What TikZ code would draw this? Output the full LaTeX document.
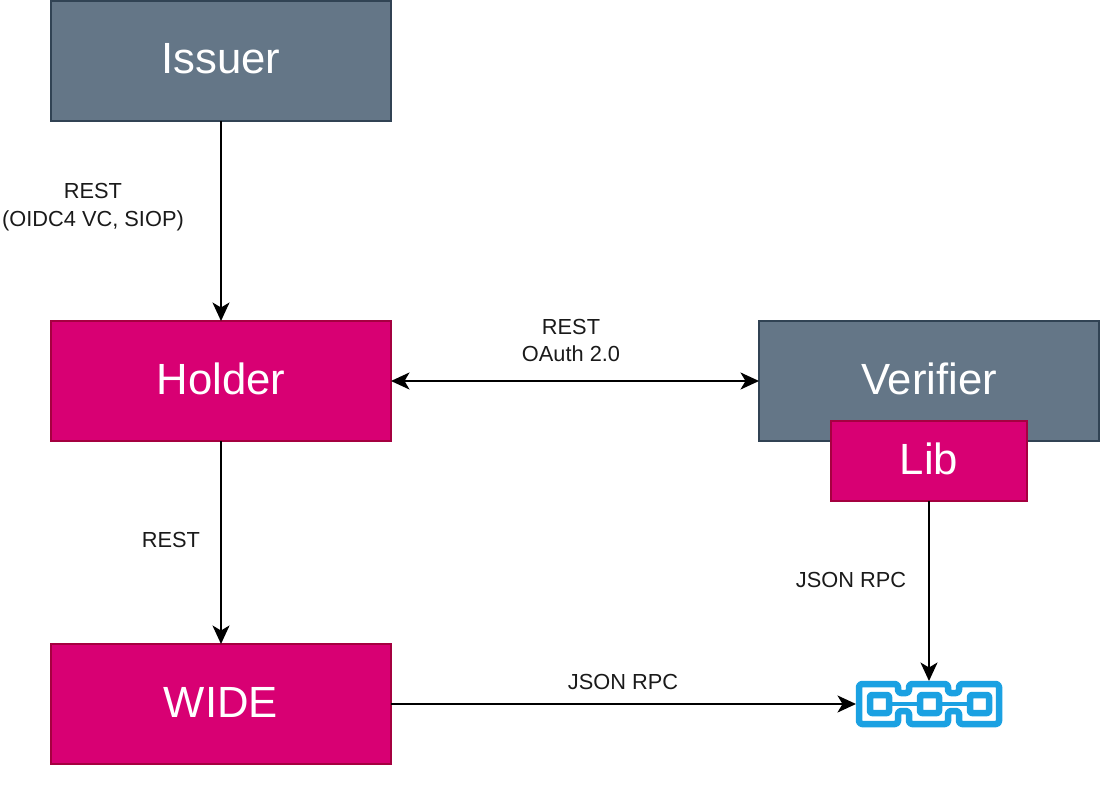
\documentclass[tikz,border=0pt]{standalone}
\usepackage{fontspec}
\setmainfont{Liberation Sans}
\usetikzlibrary{arrows.meta}
\definecolor{slatefill}{HTML}{647687}
\definecolor{slateline}{HTML}{314354}
\definecolor{pinkfill}{HTML}{D80073}
\definecolor{pinkline}{HTML}{A50040}
\definecolor{chainblue}{HTML}{1BA1E2}
\definecolor{labeltext}{HTML}{1A1A1A}
\begin{document}
\begin{tikzpicture}[y=-1cm, >={Stealth[length=1.85mm, width=1.7mm, inset=0.5mm]},
      inner sep=0pt, outer sep=0pt,
      arrow/.style={line width=0.57pt, black},
      party/.style={draw=slateline, fill=slatefill, text=white, line width=0.5pt,
        minimum width=3.4cm, minimum height=1.2cm, text height=0.31cm, text depth=0.05cm,
        font=\fontsize{12.43}{15}\selectfont},
      wallet/.style={party, draw=pinkline, fill=pinkfill},
      proto/.style={align=center, text=labeltext,
        font=\fontsize{6.2}{7.9}\selectfont},
      chainline/.style={draw=chainblue, line width=1.85pt, line join=round, rounded corners=0.3mm}]
      \useasboundingbox (0,0) rectangle (11,7.94);
      % parties;
      \node[party](issuer) at(2.21,0.61) {Issuer};
      \node[wallet](holder) at(2.21,3.81) {Holder};
      \node[wallet](wide) at(2.21,7.04) {WIDE};
      \node[party](verifier) at(9.29,3.81) {Verifier};
      \node[wallet, minimum width=1.96cm, minimum height=0.8cm](lib) at(9.29,4.61) {Lib};
      % chain icon;
      \node[minimum width=1.46cm, minimum height=0.46cm](chain) at(9.29,7.04) {};
      \draw[chainline] (8.59,6.84) -- (8.98,6.84) -- (8.98,6.93) -- (9.09,6.93)
        -- (9.09,6.84) -- (9.48,6.84) -- (9.48,6.93) -- (9.59,6.93) -- (9.59,6.84)
        -- (9.99,6.84) -- (9.99,7.24) -- (9.59,7.24) -- (9.59,7.11) -- (9.48,7.11)
        -- (9.48,7.24) -- (9.09,7.24) -- (9.09,7.11) -- (8.98,7.11) -- (8.98,7.24)
        -- (8.59,7.24) -- cycle;
      \draw[chainline, rounded corners=0.2mm] (8.70,6.95) rectangle (8.89,7.13);
      \draw[chainline, rounded corners=0.2mm] (9.20,6.95) rectangle (9.39,7.13);
      \draw[chainline, rounded corners=0.2mm] (9.70,6.95) rectangle (9.89,7.13);
      \draw[chainblue, line width=1.3pt] (8.89,7.04) -- (9.20,7.04);
      \draw[chainblue, line width=1.3pt] (9.39,7.04) -- (9.70,7.04);
      % connectors;
      \draw[arrow, ->] (issuer) -- (holder);
      \draw[arrow, ->] (holder) -- (wide);
      \draw[arrow, <->] (holder) -- (verifier);
      \draw[arrow, ->] (lib) -- (chain);
      \draw[arrow, ->] (wide) -- (chain);
      % labels;
      \node[proto](issuer_rest) at(0.93,2.07) {REST\\(OIDC4 VC, SIOP)};
      \node[proto](verifier_rest) at(5.71,3.405) {REST\\OAuth 2.0};
      \node[proto](wide_rest) at(1.71,5.40) {REST};
      \node[proto](lib_rpc) at(8.51,5.80) {JSON RPC};
      \node[proto](wide_rpc) at(6.23,6.82) {JSON RPC};
  \end{tikzpicture}
\end{document}
